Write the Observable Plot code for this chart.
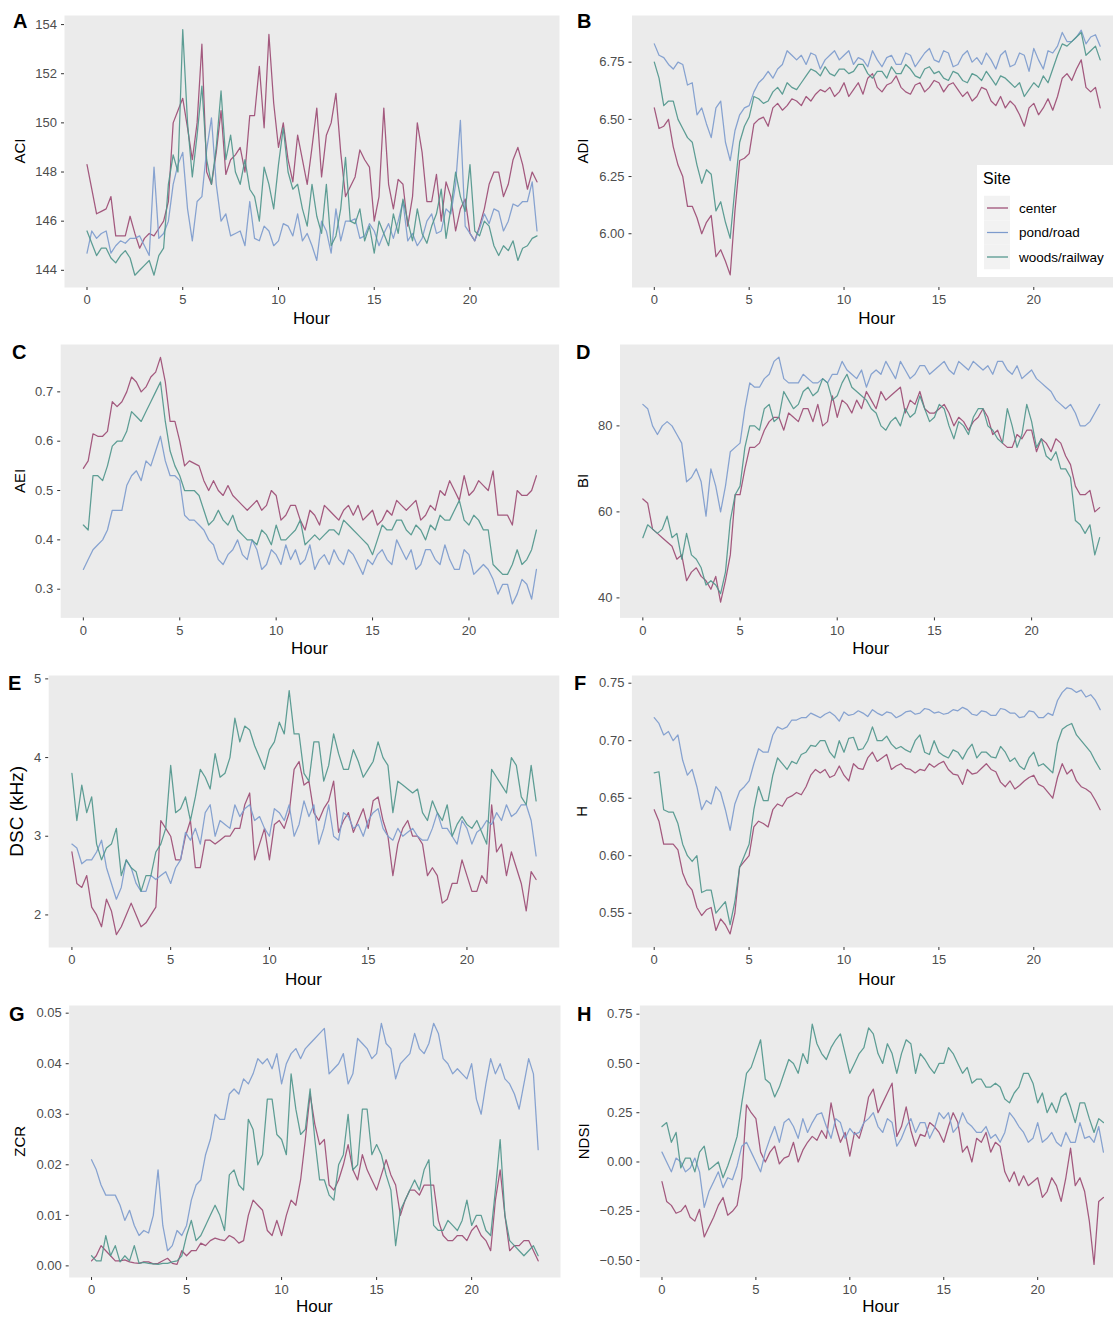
<!DOCTYPE html>
<html><head><meta charset="utf-8">
<script src="https://cdn.jsdelivr.net/npm/d3@7"></script>
<script src="https://cdn.jsdelivr.net/npm/@observablehq/plot@0.6"></script>
<style>
html,body{margin:0;padding:0;background:#fff;}
body{width:1113px;height:1317px;overflow:hidden;position:relative;font-family:"Liberation Sans",Arial,Helvetica,sans-serif;}
#fig{position:absolute;left:0;top:0;width:1113px;height:1317px;overflow:hidden;}
</style></head><body><div id="fig"></div>
<script>
const hours = [0,0.25,0.5,0.75,1,1.25,1.5,1.75,2,2.25,2.5,2.75,3,3.25,3.5,3.75,4,4.25,4.5,4.75,5,5.25,5.5,5.75,6,6.25,6.5,6.75,7,7.25,7.5,7.75,8,8.25,8.5,8.75,9,9.25,9.5,9.75,10,10.25,10.5,10.75,11,11.25,11.5,11.75,12,12.25,12.5,12.75,13,13.25,13.5,13.75,14,14.25,14.5,14.75,15,15.25,15.5,15.75,16,16.25,16.5,16.75,17,17.25,17.5,17.75,18,18.25,18.5,18.75,19,19.25,19.5,19.75,20,20.25,20.5,20.75,21,21.25,21.5,21.75,22,22.25,22.5,22.75,23,23.25,23.5];
const sites = ["center","pond/road","woods/railway"];
const siteColors = ["#9C4C74","#7D9BCD","#50968C"];
const xTicks = [0,5,10,15,20];

const aciCenter = [148.3,147.3,146.3,146.4,146.5,147.0,145.4,145.4,145.4,146.2,
145.5,144.9,145.3,145.5,145.4,145.7,146.0,146.8,150.0,150.5,
151.0,149.8,148.5,150.0,153.2,148.0,147.5,148.8,150.5,147.9,
148.5,148.7,149.0,148.0,150.3,150.3,152.3,149.8,153.6,150.8,
149.0,150.0,148.5,147.6,149.5,148.5,147.5,149.0,150.6,147.8,
149.5,150.0,151.2,148.8,147.0,147.4,147.8,148.9,148.5,148.2,
146.0,147.0,150.6,147.5,146.5,147.7,147.5,145.8,147.0,150.0,
148.8,146.8,146.8,147.9,146.0,147.6,147.0,145.6,146.5,146.9,
145.5,145.2,145.8,146.5,147.5,148.0,148.0,147.0,147.5,148.5,
149.0,148.3,147.3,148.0,147.6];
const aciPond = [144.7,145.6,145.3,145.5,145.6,144.7,145.0,145.2,145.1,145.3,
145.3,145.4,145.0,144.6,148.2,145.3,145.5,146.0,147.5,148.3,
148.8,146.5,145.2,146.8,147.0,148.9,150.2,147.5,146.0,146.3,
145.4,145.5,145.6,145.0,146.8,145.3,145.2,145.8,145.6,145.0,
145.2,145.9,145.8,145.4,146.3,145.2,145.5,145.0,144.4,146.0,
145.6,144.7,146.5,145.2,146.0,146.0,146.1,145.3,145.4,145.9,
145.6,145.0,145.5,145.9,145.3,146.0,146.8,145.2,145.5,145.0,
145.3,146.0,146.3,145.5,145.6,146.5,146.3,147.5,150.1,145.8,
145.5,145.2,145.7,146.3,145.9,146.5,146.4,145.6,146.0,146.7,
146.6,146.8,146.8,147.6,145.6];
const aciWoods = [145.6,145.1,144.6,144.9,144.9,144.5,144.3,144.6,144.8,144.5,
143.8,144.0,144.2,144.4,143.8,144.6,144.9,147.5,148.7,148.0,
153.8,150.0,147.8,149.5,151.5,148.5,147.5,149.0,151.3,148.5,
149.5,148.0,147.5,148.5,147.3,147.0,146.0,148.2,147.5,146.5,
148.3,149.8,148.0,147.3,147.5,146.5,145.8,147.5,146.2,145.5,
147.5,145.0,145.4,146.5,148.6,146.0,145.9,146.5,145.2,145.8,
144.7,146.0,145.5,145.0,146.3,145.5,146.9,146.0,145.2,146.5,
145.5,145.1,145.8,146.3,147.3,145.3,146.5,148.0,147.0,146.4,
148.3,145.6,145.4,146.0,145.8,145.0,144.6,145.0,144.8,145.2,
144.4,144.9,145.0,145.3,145.4];

const adiCenter = [6.55,6.46,6.47,6.50,6.38,6.30,6.25,6.12,6.12,6.07,
6.00,6.05,6.08,5.90,5.93,5.88,5.82,6.10,6.32,6.33,
6.35,6.48,6.50,6.51,6.47,6.55,6.57,6.54,6.56,6.59,
6.58,6.56,6.60,6.58,6.61,6.63,6.62,6.64,6.60,6.62,
6.66,6.60,6.63,6.66,6.61,6.68,6.70,6.64,6.62,6.65,
6.66,6.69,6.64,6.62,6.61,6.65,6.66,6.62,6.64,6.67,
6.66,6.62,6.65,6.66,6.63,6.60,6.62,6.58,6.60,6.64,
6.63,6.58,6.56,6.60,6.55,6.58,6.56,6.52,6.47,6.55,
6.57,6.52,6.55,6.59,6.54,6.60,6.68,6.70,6.67,6.72,
6.76,6.64,6.62,6.64,6.55];
const adiPond = [6.83,6.78,6.77,6.74,6.72,6.75,6.74,6.65,6.66,6.52,
6.55,6.48,6.42,6.55,6.58,6.40,6.32,6.45,6.52,6.55,
6.56,6.62,6.66,6.68,6.71,6.68,6.72,6.74,6.80,6.78,
6.76,6.78,6.74,6.79,6.78,6.72,6.76,6.78,6.80,6.76,
6.78,6.80,6.74,6.77,6.76,6.73,6.80,6.76,6.73,6.77,
6.78,6.74,6.74,6.79,6.78,6.73,6.76,6.79,6.81,6.76,
6.75,6.80,6.79,6.73,6.74,6.78,6.80,6.75,6.77,6.74,
6.79,6.76,6.72,6.78,6.80,6.73,6.74,6.79,6.78,6.71,
6.81,6.76,6.72,6.80,6.79,6.82,6.88,6.84,6.84,6.86,
6.89,6.83,6.86,6.87,6.82];
const adiWoods = [6.75,6.68,6.56,6.58,6.58,6.50,6.46,6.42,6.40,6.30,
6.22,6.28,6.26,6.10,6.14,6.05,5.98,6.20,6.40,6.47,
6.51,6.60,6.59,6.57,6.58,6.62,6.64,6.61,6.66,6.64,
6.63,6.66,6.69,6.72,6.71,6.69,6.73,6.70,6.69,6.72,
6.72,6.70,6.71,6.74,6.74,6.70,6.68,6.71,6.71,6.68,
6.73,6.70,6.70,6.74,6.72,6.69,6.68,6.72,6.73,6.70,
6.71,6.68,6.67,6.71,6.70,6.67,6.66,6.70,6.69,6.67,
6.71,6.68,6.65,6.69,6.68,6.66,6.64,6.66,6.60,6.63,
6.66,6.64,6.69,6.66,6.72,6.78,6.83,6.82,6.84,6.86,
6.88,6.78,6.80,6.82,6.76];

const aeiCenter = [0.545,0.56,0.615,0.61,0.61,0.62,0.68,0.67,0.68,0.70,
0.73,0.72,0.70,0.71,0.73,0.74,0.77,0.72,0.64,0.64,
0.60,0.55,0.56,0.555,0.55,0.52,0.50,0.52,0.50,0.49,
0.51,0.49,0.48,0.47,0.46,0.47,0.48,0.46,0.47,0.50,
0.49,0.44,0.45,0.47,0.47,0.44,0.42,0.46,0.45,0.43,
0.47,0.46,0.45,0.44,0.46,0.47,0.45,0.47,0.44,0.45,
0.46,0.43,0.44,0.46,0.45,0.48,0.47,0.46,0.47,0.48,
0.44,0.45,0.47,0.46,0.50,0.49,0.52,0.50,0.48,0.53,
0.49,0.50,0.52,0.51,0.50,0.54,0.45,0.45,0.45,0.43,
0.50,0.49,0.49,0.50,0.53];
const aeiPond = [0.34,0.36,0.38,0.39,0.40,0.42,0.46,0.46,0.46,0.51,
0.53,0.54,0.52,0.56,0.55,0.58,0.61,0.56,0.53,0.53,
0.52,0.45,0.44,0.44,0.43,0.42,0.40,0.39,0.36,0.35,
0.37,0.38,0.40,0.37,0.36,0.40,0.38,0.34,0.35,0.38,
0.37,0.35,0.39,0.36,0.38,0.35,0.36,0.39,0.34,0.36,
0.37,0.35,0.38,0.36,0.35,0.38,0.37,0.35,0.33,0.36,
0.35,0.37,0.38,0.36,0.35,0.40,0.38,0.36,0.38,0.34,
0.35,0.38,0.38,0.36,0.35,0.39,0.36,0.34,0.34,0.38,
0.37,0.33,0.34,0.35,0.34,0.32,0.29,0.31,0.31,0.27,
0.29,0.32,0.31,0.28,0.34];
const aeiWoods = [0.43,0.42,0.53,0.53,0.52,0.55,0.59,0.60,0.60,0.62,
0.66,0.65,0.64,0.66,0.68,0.70,0.72,0.64,0.58,0.55,
0.53,0.50,0.50,0.50,0.49,0.46,0.43,0.44,0.46,0.44,
0.43,0.45,0.42,0.41,0.40,0.40,0.39,0.42,0.41,0.39,
0.43,0.40,0.40,0.41,0.42,0.44,0.39,0.40,0.41,0.40,
0.41,0.42,0.42,0.41,0.44,0.43,0.42,0.41,0.40,0.39,
0.37,0.40,0.43,0.42,0.42,0.44,0.44,0.42,0.41,0.43,
0.42,0.40,0.43,0.42,0.45,0.44,0.44,0.46,0.48,0.44,
0.43,0.45,0.44,0.42,0.42,0.35,0.34,0.33,0.33,0.35,
0.38,0.35,0.36,0.38,0.42];

const biCenter = [63,62,56,55,54,53,52,49,50,44,
46,47,45,44,42,45,39,44,50,64,
64,70,75,75,76,79,81,82,82,79,
83,82,81,84,84,81,85,80,81,87,
82,86,85,83,86,84,88,86,84,88,
86,87,88,89,83,86,85,88,84,83,
83,84,85,83,80,82,81,79,81,82,
84,82,78,79,76,75,75,78,77,79,
79,74,77,76,74,77,76,73,71,66,
64,64,65,60,61];
const biPond = [85,84,80,78,80,81,80,78,76,67,
68,70,67,59,70,66,60,66,74,75,
76,84,90,89,89,91,92,95,96,91,
90,90,90,92,91,90,90,91,90,92,
92,95,93,92,91,93,89,92,93,92,
95,93,91,95,93,91,92,94,94,92,
93,94,95,93,92,95,94,93,95,94,
93,94,92,95,95,93,92,94,91,92,
93,91,90,89,88,86,85,84,85,83,
80,80,81,83,85];
const biWoods = [54,57,56,55,56,59,54,55,49,55,
50,49,47,43,44,43,41,46,58,64,
66,75,80,80,79,84,85,81,82,88,
86,84,85,88,89,87,88,91,90,86,
87,90,92,89,88,87,86,84,83,80,
79,81,82,80,84,82,83,87,84,81,
82,85,84,80,77,81,80,78,82,84,
84,80,79,77,76,84,80,75,78,85,
81,75,77,73,72,74,70,70,68,58,
57,55,57,50,54];

const dscCenter = [2.8,2.4,2.35,2.5,2.1,2.0,1.85,2.2,2.05,1.75,
1.85,2.0,2.15,2.0,1.85,1.9,2.0,2.1,3.2,3.1,
3.0,2.7,2.7,3.0,3.2,2.6,2.6,2.95,2.95,2.9,
2.95,3.0,3.0,3.1,3.1,3.4,3.55,2.7,2.9,3.1,
2.7,3.15,3.2,3.1,3.3,3.85,3.95,3.65,3.7,3.3,
3.2,3.35,3.45,3.7,3.05,3.2,3.3,3.05,3.2,3.35,
3.1,3.45,3.5,3.2,3.0,2.5,2.9,3.1,3.2,3.0,
3.0,2.9,2.5,2.6,2.5,2.15,2.2,2.4,2.4,2.7,
2.5,2.3,2.3,2.5,2.4,3.4,2.8,2.9,2.5,2.8,
2.6,2.4,2.05,2.55,2.45];
const dscPond = [2.9,2.85,2.65,2.7,2.7,2.8,2.95,2.6,2.4,2.2,
2.35,2.7,2.6,2.4,2.3,2.3,2.5,2.45,2.5,2.55,
2.4,2.6,2.7,3.05,2.95,3.1,2.9,3.3,3.4,3.0,
3.2,3.15,3.1,3.4,3.25,3.35,3.4,3.2,3.25,3.1,
3.0,3.35,3.3,3.2,3.4,3.0,3.15,3.45,3.25,3.4,
2.9,3.1,3.4,3.0,2.95,3.3,3.25,3.1,3.15,3.0,
3.2,3.3,3.35,3.1,3.0,2.95,3.1,3.0,3.05,3.1,
3.0,2.95,2.95,3.1,3.3,3.1,3.1,3.0,2.9,3.2,
3.1,2.9,3.05,3.1,3.2,3.15,3.3,3.2,3.4,3.25,
3.3,3.4,3.4,3.2,2.75];
const dscWoods = [3.8,3.2,3.65,3.3,3.5,2.9,2.7,2.85,2.9,3.1,
2.5,2.7,2.6,2.55,2.3,2.5,2.5,2.8,2.9,3.1,
3.9,3.3,3.35,3.5,3.2,3.5,3.85,3.75,3.6,4.05,
3.75,3.8,4.0,4.5,4.2,4.4,4.35,4.15,4.0,3.85,
4.1,4.2,4.45,4.3,4.85,4.3,4.3,3.8,3.7,4.2,
4.2,3.7,3.9,4.3,4.05,3.85,3.85,4.1,3.95,3.75,
3.85,3.95,4.2,4.0,3.9,3.3,3.7,3.65,3.6,3.55,
3.6,3.3,3.2,3.45,3.3,3.2,3.4,3.0,3.15,3.25,
3.15,3.1,3.2,3.05,2.9,3.85,3.75,3.65,3.55,4.0,
3.9,3.5,3.4,3.9,3.45];

const hCenter = [0.64,0.63,0.61,0.61,0.61,0.605,0.585,0.575,0.57,0.555,
0.548,0.553,0.555,0.535,0.545,0.54,0.532,0.55,0.59,0.595,
0.60,0.625,0.63,0.628,0.625,0.64,0.645,0.643,0.65,0.652,
0.655,0.653,0.66,0.67,0.675,0.672,0.675,0.668,0.67,0.678,
0.67,0.665,0.68,0.676,0.675,0.685,0.69,0.682,0.685,0.688,
0.675,0.678,0.68,0.676,0.675,0.672,0.675,0.674,0.68,0.677,
0.68,0.682,0.675,0.671,0.67,0.662,0.675,0.671,0.672,0.676,
0.68,0.675,0.673,0.664,0.66,0.665,0.658,0.661,0.665,0.668,
0.67,0.662,0.66,0.655,0.65,0.668,0.68,0.671,0.675,0.665,
0.66,0.658,0.655,0.648,0.64];
const hPond = [0.72,0.715,0.705,0.708,0.70,0.705,0.683,0.67,0.675,0.66,
0.64,0.648,0.645,0.66,0.655,0.64,0.622,0.645,0.656,0.66,
0.665,0.68,0.693,0.69,0.69,0.705,0.712,0.71,0.712,0.718,
0.718,0.72,0.72,0.724,0.722,0.72,0.723,0.725,0.722,0.717,
0.725,0.722,0.723,0.726,0.724,0.721,0.727,0.724,0.722,0.725,
0.724,0.72,0.722,0.725,0.726,0.723,0.724,0.728,0.727,0.724,
0.725,0.723,0.724,0.727,0.726,0.729,0.727,0.723,0.722,0.726,
0.725,0.722,0.722,0.728,0.727,0.724,0.724,0.72,0.721,0.726,
0.725,0.72,0.72,0.724,0.722,0.735,0.742,0.746,0.745,0.742,
0.744,0.738,0.74,0.735,0.727];
const hWoods = [0.672,0.673,0.64,0.638,0.638,0.628,0.61,0.60,0.595,0.60,
0.568,0.57,0.57,0.55,0.555,0.56,0.54,0.56,0.59,0.60,
0.61,0.64,0.66,0.648,0.648,0.67,0.685,0.68,0.675,0.682,
0.68,0.688,0.69,0.696,0.695,0.70,0.70,0.69,0.685,0.70,
0.69,0.702,0.703,0.692,0.693,0.70,0.712,0.70,0.70,0.704,
0.697,0.693,0.695,0.692,0.69,0.70,0.705,0.69,0.688,0.70,
0.69,0.687,0.685,0.692,0.69,0.684,0.692,0.697,0.685,0.69,
0.69,0.686,0.685,0.695,0.69,0.682,0.685,0.678,0.675,0.685,
0.69,0.678,0.68,0.676,0.672,0.698,0.71,0.713,0.715,0.705,
0.70,0.695,0.69,0.682,0.675];

const zcrCenter = [0.001,0.002,0.004,0.003,0.002,0.001,0.001,0.0012,0.0008,0.0006,
0.0005,0.0008,0.0008,0.0004,0.0005,0.001,0.0015,0.0005,0.0003,0.003,
0.002,0.003,0.003,0.0045,0.004,0.005,0.0055,0.0052,0.005,0.006,
0.0055,0.0045,0.005,0.01,0.013,0.012,0.011,0.007,0.006,0.009,
0.006,0.01,0.013,0.012,0.017,0.025,0.034,0.028,0.024,0.025,
0.016,0.015,0.017,0.02,0.024,0.019,0.017,0.022,0.019,0.017,
0.015,0.018,0.021,0.018,0.016,0.01,0.013,0.015,0.015,0.014,
0.016,0.016,0.016,0.009,0.006,0.005,0.005,0.006,0.006,0.005,
0.007,0.008,0.006,0.005,0.003,0.013,0.019,0.01,0.003,0.004,
0.004,0.005,0.005,0.003,0.001];
const zcrPond = [0.021,0.019,0.016,0.014,0.014,0.014,0.012,0.009,0.011,0.008,
0.006,0.007,0.0065,0.01,0.019,0.008,0.003,0.004,0.007,0.006,
0.008,0.013,0.016,0.017,0.022,0.025,0.030,0.029,0.029,0.034,
0.035,0.034,0.037,0.036,0.038,0.041,0.040,0.041,0.039,0.042,
0.036,0.04,0.042,0.043,0.041,0.043,0.044,0.045,0.046,0.047,
0.038,0.039,0.040,0.042,0.036,0.038,0.045,0.044,0.043,0.041,
0.042,0.048,0.044,0.043,0.037,0.040,0.041,0.042,0.046,0.043,
0.042,0.044,0.048,0.046,0.041,0.04,0.038,0.039,0.038,0.037,
0.040,0.033,0.030,0.036,0.041,0.038,0.040,0.037,0.036,0.034,
0.031,0.036,0.041,0.038,0.023];
const zcrWoods = [0.002,0.001,0.001,0.006,0.002,0.004,0.0008,0.002,0.001,0.004,
0.0005,0.0007,0.0005,0.0004,0.0003,0.0005,0.0005,0.0008,0.001,0.002,
0.006,0.009,0.005,0.006,0.008,0.01,0.012,0.010,0.007,0.018,
0.019,0.016,0.015,0.029,0.027,0.020,0.022,0.033,0.033,0.026,
0.025,0.022,0.038,0.031,0.026,0.027,0.035,0.025,0.017,0.017,
0.014,0.013,0.020,0.022,0.030,0.019,0.020,0.031,0.031,0.022,
0.024,0.022,0.018,0.015,0.004,0.011,0.013,0.015,0.017,0.015,
0.019,0.021,0.008,0.007,0.007,0.009,0.008,0.007,0.009,0.013,
0.008,0.01,0.010,0.007,0.006,0.015,0.025,0.01,0.005,0.004,
0.003,0.002,0.003,0.004,0.002];

const ndsiCenter = [-0.10,-0.20,-0.22,-0.26,-0.25,-0.22,-0.28,-0.30,-0.24,-0.38,
-0.33,-0.28,-0.22,-0.18,-0.27,-0.25,-0.22,-0.08,0.29,0.25,
0.22,0.05,0.00,0.05,0.08,-0.01,0.02,0.03,0.10,0.00,
0.06,0.10,0.13,0.11,0.16,0.12,0.30,0.18,0.10,0.15,
0.03,0.15,0.12,0.20,0.33,0.37,0.25,0.30,0.35,0.40,
0.13,0.18,0.28,0.16,0.08,0.14,0.13,0.20,0.18,0.15,
0.10,0.18,0.25,0.20,0.05,0.08,0.00,0.12,0.10,0.15,
0.05,0.10,0.08,-0.05,-0.10,-0.05,-0.12,-0.07,-0.12,-0.10,
-0.08,-0.18,-0.15,-0.08,-0.12,-0.20,-0.08,0.07,-0.12,-0.08,
-0.15,-0.30,-0.52,-0.20,-0.18];
const ndsiPond = [0.05,0.00,-0.05,0.02,0.00,-0.05,-0.03,0.02,-0.05,-0.23,
-0.15,-0.10,-0.05,-0.13,-0.08,-0.09,-0.02,0.08,0.10,0.05,
0.00,-0.05,0.05,0.12,0.18,0.10,0.20,0.22,0.18,0.12,
0.22,0.15,0.20,0.24,0.25,0.18,0.12,0.22,0.20,0.12,
0.17,0.14,0.15,0.20,0.22,0.25,0.18,0.15,0.22,0.20,
0.08,0.12,0.18,0.22,0.15,0.20,0.20,0.12,0.17,0.25,
0.22,0.25,0.15,0.18,0.25,0.20,0.18,0.15,0.15,0.18,
0.12,0.14,0.10,0.15,0.25,0.22,0.18,0.15,0.10,0.12,
0.20,0.10,0.12,0.15,0.10,0.08,0.15,0.10,0.10,0.20,
0.12,0.13,0.10,0.18,0.05];
const ndsiWoods = [0.18,0.20,0.10,0.15,-0.03,0.02,0.02,-0.05,0.05,0.08,
-0.04,-0.02,0.00,-0.08,-0.02,0.05,0.13,0.30,0.45,0.48,
0.55,0.62,0.42,0.40,0.33,0.38,0.45,0.52,0.50,0.45,
0.55,0.50,0.70,0.60,0.55,0.52,0.58,0.62,0.65,0.55,
0.45,0.50,0.55,0.58,0.68,0.65,0.55,0.50,0.60,0.55,
0.45,0.55,0.62,0.60,0.45,0.55,0.52,0.48,0.45,0.50,
0.50,0.58,0.55,0.50,0.45,0.48,0.40,0.42,0.42,0.38,
0.38,0.40,0.38,0.32,0.30,0.35,0.38,0.45,0.45,0.40,
0.30,0.35,0.25,0.30,0.25,0.33,0.35,0.28,0.20,0.30,
0.30,0.22,0.15,0.22,0.20];

const fix = n => d => d.toFixed(n).replace("-", "\u2212");
const panels = [
  {tag:"A", title:"ACI", series:[aciCenter,aciPond,aciWoods], col:0, bg:[64,559,15,287], y:[143.3,154.37], ticks:[144,146,148,150,152,154], fmt:fix(0), tagPos:[13,28], tx:19, ts:15},
  {tag:"B", title:"ADI", series:[adiCenter,adiPond,adiWoods], col:1, bg:[631.5,1122,15,287], y:[5.765,6.954], ticks:[6.0,6.25,6.5,6.75], fmt:fix(2), tagPos:[577,28], tx:582, ts:15},
  {tag:"C", title:"AEI", series:[aeiCenter,aeiPond,aeiWoods], col:0, bg:[60.2,558.6,344.3,617.7], y:[0.2418,0.796], ticks:[0.3,0.4,0.5,0.6,0.7], fmt:fix(1), tagPos:[12,359], tx:19, ts:15},
  {tag:"D", title:"BI", series:[biCenter,biPond,biWoods], col:1, bg:[619.5,1122,344.3,617.7], y:[35.35,98.93], ticks:[40,60,80], fmt:fix(0), tagPos:[576,359], tx:582, ts:15},
  {tag:"E", title:"DSC (kHz)", series:[dscCenter,dscPond,dscWoods], col:0, bg:[48.2,558.8,675.3,947.3], y:[1.586,5.043], ticks:[2,3,4,5], fmt:fix(0), tagPos:[8,690], tx:16, ts:19},
  {tag:"F", title:"H", series:[hCenter,hPond,hWoods], col:1, bg:[631.4,1122,675.3,947.3], y:[0.5202,0.7567], ticks:[0.55,0.6,0.65,0.7,0.75], fmt:fix(2), tagPos:[574,690], tx:581, ts:15},
  {tag:"G", title:"ZCR", series:[zcrCenter,zcrPond,zcrWoods], col:0, bg:[68.7,560,1005.3,1277.3], y:[-0.0023,0.05152], ticks:[0,0.01,0.02,0.03,0.04,0.05], fmt:fix(2), tagPos:[9,1021], tx:19.5, ts:15},
  {tag:"H", title:"NDSI", series:[ndsiCenter,ndsiPond,ndsiWoods], col:1, bg:[639.4,1125,1005.3,1277.3], y:[-0.586,0.794], ticks:[-0.5,-0.25,0,0.25,0.5,0.75], fmt:fix(2), tagPos:[577,1021], tx:583, ts:15}
];
const xDomain = [-1.175, 24.675];
const FONT = '"Liberation Sans", Arial, Helvetica, sans-serif';
const fig = document.getElementById("fig");

panels.forEach(p => {
  const data = [];
  sites.forEach((s, i) => p.series[i].forEach((v, j) => {
    if (hours[j] !== undefined) data.push({hour: hours[j], value: v, site: s});
  }));
  const svgLeft = p.col === 0 ? 0 : 560;
  const svgTop = p.bg[2] - 10;
  const width = Math.round(p.bg[1] - svgLeft);
  const height = Math.round(p.bg[3] - svgTop + 30);
  const chart = Plot.plot({
    width, height,
    marginLeft: p.bg[0] - svgLeft, marginRight: width - (p.bg[1] - svgLeft), marginTop: 10, marginBottom: height - (p.bg[3] - svgTop),
    style: {background: "transparent", fontFamily: FONT, fontSize: "13px", color: "#4d4d4d", overflow: "visible"},
    x: {domain: xDomain},
    y: {domain: p.y},
    color: {domain: sites, range: siteColors},
    marks: [
      Plot.frame({fill: "#EBEBEB", stroke: "none"}),
      Plot.axisX({ticks: xTicks, tickSize: 3, tickPadding: 4.5, fontSize: 13, stroke: "#333", label: null}),
      Plot.axisY({ticks: p.ticks, tickFormat: p.fmt, tickSize: 3, tickPadding: 4.5, fontSize: 13, stroke: "#333", label: null}),
      Plot.line(data, {x: "hour", y: "value", z: "site", stroke: "site", strokeWidth: 1.25, strokeOpacity: 0.92})
    ]
  });
  chart.style.position = "absolute";
  chart.style.left = svgLeft + "px";
  chart.style.top = svgTop + "px";
  fig.appendChild(chart);
});

// overlay for panel tags, axis titles and legend
const ov = d3.select(fig).append("svg")
  .attr("width", 1113).attr("height", 1317)
  .style("position", "absolute").style("left", "0px").style("top", "0px")
  .style("font-family", FONT);
const hourY = [324, 654, 985, 1312];
panels.forEach((p, k) => {
  ov.append("text").attr("x", p.tagPos[0]).attr("y", p.tagPos[1]).attr("font-size", 20).attr("font-weight", "bold").attr("fill", "#000").text(p.tag);
  const cy = (p.bg[2] + p.bg[3]) / 2;
  ov.append("text").attr("transform", `translate(${p.tx},${cy}) rotate(-90)`).attr("text-anchor", "middle").attr("dominant-baseline", "central").attr("font-size", p.ts).attr("fill", "#000").text(p.title);
  const cx = (p.bg[0] + Math.min(p.bg[1], 1122)) / 2;
  ov.append("text").attr("x", cx).attr("y", hourY[Math.floor(k / 2)]).attr("text-anchor", "middle").attr("font-size", 17).attr("fill", "#000").text("Hour");
});
// legend (inside panel B)
const lg = ov.append("g");
lg.append("rect").attr("x", 977).attr("y", 165).attr("width", 150).attr("height", 112).attr("fill", "#fff");
lg.append("text").attr("x", 983).attr("y", 184).attr("font-size", 16).attr("fill", "#000").text("Site");
sites.forEach((s, i) => {
  const cy = 208 + i * 24.5;
  lg.append("rect").attr("x", 984).attr("y", cy - 12.25).attr("width", 26).attr("height", 24.5).attr("fill", "#F2F2F2");
  lg.append("line").attr("x1", 987).attr("x2", 1008).attr("y1", cy).attr("y2", cy).attr("stroke", siteColors[i]).attr("stroke-width", 1.25);
  lg.append("text").attr("x", 1019).attr("y", cy).attr("dominant-baseline", "central").attr("font-size", 13.5).attr("fill", "#000").text(s);
});
</script></body></html>
